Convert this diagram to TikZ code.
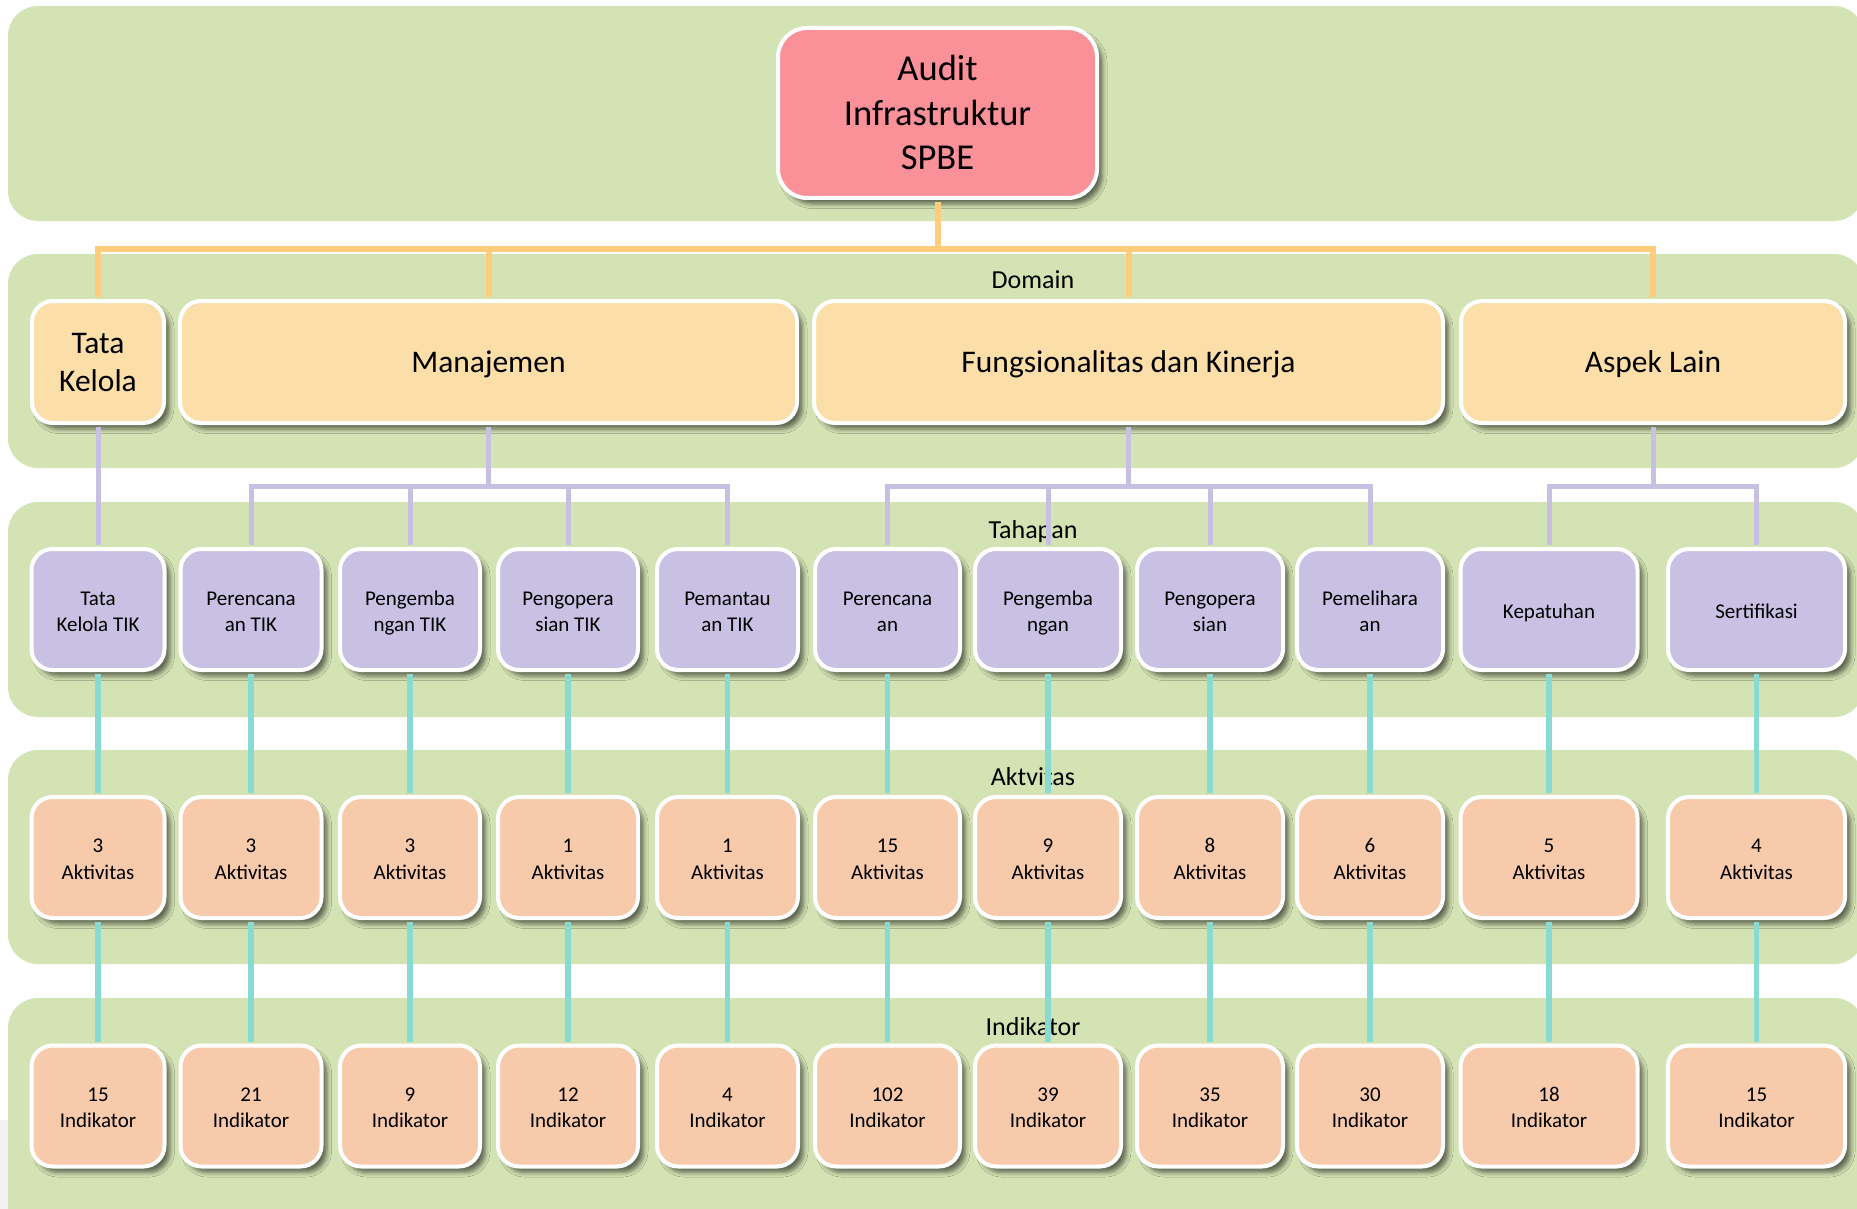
\documentclass[tikz,border=0pt]{standalone}
\usepackage{fontspec}
\setmainfont{Carlito}
\usetikzlibrary{shadows.blur}

\definecolor{bandgreen}{RGB}{212,227,180}
\definecolor{rootpink}{RGB}{250,144,152}
\definecolor{domfill}{RGB}{252,222,168}
\definecolor{stagefill}{RGB}{201,193,227}
\definecolor{countfill}{RGB}{247,202,172}
\definecolor{orangeline}{RGB}{254,204,122}
\definecolor{purpleline}{RGB}{200,192,226}
\definecolor{tealline}{RGB}{136,218,210}
\definecolor{pagegray}{RGB}{242,242,242}

% invisible rule: height \lsheight, depth \baselineskip-\lsheight,
% so that every box places its lines the same way
\newlength\lsheight
\newcommand\ls{\rule[-\dimexpr\baselineskip-\lsheight\relax]{0pt}{\baselineskip}}

\tikzset{
  band/.style={fill=bandgreen, rounded corners=30pt},
  boxbase/.style={draw=white, line width=4pt, align=center, inner sep=0pt,
    blur shadow={shadow xshift=5.5pt, shadow yshift=-6pt, shadow blur radius=4.5pt,
      shadow opacity=55}},
  rootbox/.style={boxbase, fill=rootpink, rounded corners=29pt,
    minimum width=319pt, minimum height=170pt,
    font=\fontsize{36.5pt}{44.5pt}\selectfont\setlength\lsheight{34.75pt}},
  dombox/.style={boxbase, fill=domfill, rounded corners=21pt, minimum height=122pt,
    font=\fontsize{31.5pt}{38.5pt}\selectfont\setlength\lsheight{29.75pt}},
  stagebox/.style={boxbase, fill=stagefill, rounded corners=21pt, minimum height=121pt,
    font=\fontsize{21pt}{26pt}\selectfont\setlength\lsheight{22pt}},
  countbox/.style={boxbase, fill=countfill, rounded corners=21pt, minimum height=121pt,
    font=\fontsize{21pt}{26.4pt}\selectfont\setlength\lsheight{21.7pt}},
  bandlabel/.style={anchor=base, inner sep=0pt, font=\fontsize{26pt}{30pt}\selectfont},
  oline/.style={draw=orangeline, line width=6pt},
  pline/.style={draw=purpleline, line width=5pt},
  tline/.style={draw=tealline, line width=5.5pt, shorten <=2pt, shorten >=2pt}
}

\begin{document}
\begin{tikzpicture}[x=1pt, y=-1pt]
\useasboundingbox (0,0) rectangle (1857,1209);
\clip (0,0) rectangle (1857,1209);

% page and background bands
\fill[white] (0,0) rectangle (1857,1209);
\fill[pagegray] (0,1120) rectangle (60,1209);
\fill[band] (8,6)    rectangle (1864,221);
\fill[band] (8,254)  rectangle (1864,468);
\fill[band] (8,502)  rectangle (1864,717);
\fill[band] (8,750)  rectangle (1864,964);
\fill[band] (8,998)  rectangle (1864,1240);

% band titles
\node[bandlabel] (ldomain) at (1033,288.7) {Domain};
\node[bandlabel] (lstage)  at (1033,538)   {Tahapan};
\node[bandlabel] (lact)    at (1033,785.7) {Aktvitas};
\node[bandlabel] (lind)    at (1033,1035.5) {Indikator};

% root
\node[rootbox] (root) at (937.5,113) {\ls Audit\\Infrastruktur\\SPBE\ls};

% domains
\node[dombox, minimum width=132pt] (d1) at (98,362)     {\ls Tata\\Kelola\ls};
\node[dombox, minimum width=617pt] (d2) at (488.5,362)  {\ls Manajemen\ls};
\node[dombox, minimum width=629pt] (d3) at (1128.5,362) {\ls Fungsionalitas dan Kinerja\ls};
\node[dombox, minimum width=384pt] (d4) at (1653,362)   {\ls Aspek Lain\ls};

% stages
\node[stagebox, minimum width=133pt] (t1)  at (98,609.5)     {\ls Tata\\Kelola TIK\ls};
\node[stagebox, minimum width=141pt] (t2)  at (251,609.5)    {\ls Perencana\\an TIK\ls};
\node[stagebox, minimum width=140pt] (t3)  at (410,609.5)    {\ls Pengemba\\ngan TIK\ls};
\node[stagebox, minimum width=140pt] (t4)  at (568,609.5)    {\ls Pengopera\\sian TIK\ls};
\node[stagebox, minimum width=141pt] (t5)  at (727.5,609.5)  {\ls Pemantau\\an TIK\ls};
\node[stagebox, minimum width=145pt] (t6)  at (887.5,609.5)  {\ls Perencana\\an\ls};
\node[stagebox, minimum width=146pt] (t7)  at (1048,609.5)   {\ls Pengemba\\ngan\ls};
\node[stagebox, minimum width=146pt] (t8)  at (1210,609.5)   {\ls Pengopera\\sian\ls};
\node[stagebox, minimum width=146pt] (t9)  at (1370,609.5)   {\ls Pemelihara\\an\ls};
\node[stagebox, minimum width=177pt] (t10) at (1549,609.5)   {\ls Kepatuhan\ls};
\node[stagebox, minimum width=177pt] (t11) at (1756.5,609.5) {\ls Sertifikasi\ls};

% activity counts
\node[countbox, minimum width=133pt] (a1)  at (98,857.5)     {\ls 3\\Aktivitas\ls};
\node[countbox, minimum width=141pt] (a2)  at (251,857.5)    {\ls 3\\Aktivitas\ls};
\node[countbox, minimum width=140pt] (a3)  at (410,857.5)    {\ls 3\\Aktivitas\ls};
\node[countbox, minimum width=140pt] (a4)  at (568,857.5)    {\ls 1\\Aktivitas\ls};
\node[countbox, minimum width=141pt] (a5)  at (727.5,857.5)  {\ls 1\\Aktivitas\ls};
\node[countbox, minimum width=145pt] (a6)  at (887.5,857.5)  {\ls 15\\Aktivitas\ls};
\node[countbox, minimum width=146pt] (a7)  at (1048,857.5)   {\ls 9\\Aktivitas\ls};
\node[countbox, minimum width=146pt] (a8)  at (1210,857.5)   {\ls 8\\Aktivitas\ls};
\node[countbox, minimum width=146pt] (a9)  at (1370,857.5)   {\ls 6\\Aktivitas\ls};
\node[countbox, minimum width=177pt] (a10) at (1549,857.5)   {\ls 5\\Aktivitas\ls};
\node[countbox, minimum width=177pt] (a11) at (1756.5,857.5) {\ls 4\\Aktivitas\ls};

% indicator counts
\node[countbox, minimum width=133pt] (n1)  at (98,1106)     {\ls 15\\Indikator\ls};
\node[countbox, minimum width=141pt] (n2)  at (251,1106)    {\ls 21\\Indikator\ls};
\node[countbox, minimum width=140pt] (n3)  at (410,1106)    {\ls 9\\Indikator\ls};
\node[countbox, minimum width=140pt] (n4)  at (568,1106)    {\ls 12\\Indikator\ls};
\node[countbox, minimum width=141pt] (n5)  at (727.5,1106)  {\ls 4\\Indikator\ls};
\node[countbox, minimum width=145pt] (n6)  at (887.5,1106)  {\ls 102\\Indikator\ls};
\node[countbox, minimum width=146pt] (n7)  at (1048,1106)   {\ls 39\\Indikator\ls};
\node[countbox, minimum width=146pt] (n8)  at (1210,1106)   {\ls 35\\Indikator\ls};
\node[countbox, minimum width=146pt] (n9)  at (1370,1106)   {\ls 30\\Indikator\ls};
\node[countbox, minimum width=177pt] (n10) at (1549,1106)   {\ls 18\\Indikator\ls};
\node[countbox, minimum width=177pt] (n11) at (1756.5,1106) {\ls 15\\Indikator\ls};

% junction points of the bracket connectors
\coordinate (obar) at (937.5,249);
\coordinate (mbar) at (488.5,486);
\coordinate (fbar) at (1128.5,486);
\coordinate (abar) at (1653,486);

% root to domains
\draw[oline, shorten <=2pt] (root.south) -- (obar);
\foreach \d in {d1,d2,d3,d4}
  \draw[oline, shorten <=2pt] (\d.north) |- (obar);

% domains to stages
\draw[pline, shorten <=2pt, shorten >=2pt] (d1.south) -- (t1.north);
\draw[pline, shorten <=2pt] (d2.south) -- (mbar);
\foreach \t in {t2,t3,t4,t5}
  \draw[pline, shorten <=2pt] (\t.north) |- (mbar);
\draw[pline, shorten <=2pt] (d3.south) -- (fbar);
\foreach \t in {t6,t7,t8,t9}
  \draw[pline, shorten <=2pt] (\t.north) |- (fbar);
\draw[pline, shorten <=2pt] (d4.south) -- (abar);
\foreach \t in {t10,t11}
  \draw[pline, shorten <=2pt] (\t.north) |- (abar);

% stages to activities to indicators
\foreach \i in {1,...,11} {
  \draw[tline] (t\i.south) -- (a\i.north);
  \draw[tline] (a\i.south) -- (n\i.north);
}
\end{tikzpicture}
\end{document}
